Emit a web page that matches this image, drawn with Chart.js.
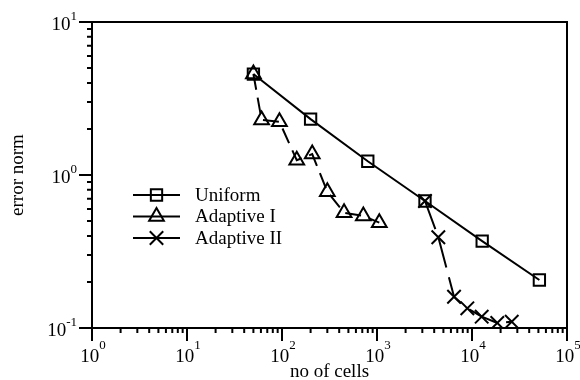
<!DOCTYPE html>
<html>
<head>
<meta charset="utf-8">
<script src="https://cdn.jsdelivr.net/npm/chart.js@4.4.0/dist/chart.umd.min.js"></script>
<style>
  html, body { margin: 0; padding: 0; background: #fff; }
</style>
</head>
<body>
<canvas id="chart" width="580" height="380"></canvas>
<script>
"use strict";

// values
const cellsUniform = [50, 200, 800, 3200, 12800, 51200];
const errorUniform = [4.57, 2.32, 1.23, 0.676, 0.37, 0.206];

const cellsAdaptive1 = [50, 61, 94, 143, 208, 300, 450, 718, 1057];
const errorAdaptive1 = [4.57, 2.29, 2.23, 1.25, 1.37, 0.778, 0.567, 0.54, 0.488];

const cellsAdaptive2 = [3200, 4420, 6470, 8930, 12650, 18460, 26200];
const errorAdaptive2 = [0.676, 0.392, 0.16, 0.1345, 0.1186, 0.108, 0.11];

const seriesLabels = ["Uniform", "Adaptive I", "Adaptive II"];
const xDecades = [0, 1, 2, 3, 4, 5];
const yDecades = [-1, 0, 1];

const FONT = "'Liberation Serif', 'Times New Roman', serif";

function toPoints(xs, ys) {
  return xs.map((x, i) => ({ x, y: ys[i] }));
}

function drawPower(ctx, exp, x, baseline, align, raise) {
  ctx.font = `19px ${FONT}`;
  const wBase = ctx.measureText("10").width;
  ctx.font = `13px ${FONT}`;
  const expText = String(exp);
  const wExp = ctx.measureText(expText).width;
  let left;
  if (align === "center") {
    left = x - (wBase + wExp) / 2 + 1;
  } else {
    left = x - wBase - wExp;
  }
  ctx.textAlign = "left";
  ctx.textBaseline = "alphabetic";
  ctx.font = `19px ${FONT}`;
  ctx.fillText("10", left, baseline);
  ctx.font = `13px ${FONT}`;
  ctx.fillText(expText, left + wBase, baseline - raise);
}

const decorPlugin = {
  id: "decor",
  afterDatasetsDraw(chart) {
    const { ctx, chartArea: area, scales } = chart;
    const x = scales.x;
    const y = scales.y;
    ctx.save();
    ctx.strokeStyle = "#000";
    ctx.fillStyle = "#000";
    ctx.lineWidth = 2;
    ctx.lineCap = "butt";
    ctx.strokeRect(area.left, area.top, area.right - area.left, area.bottom - area.top);

    // outward ticks, long on decades, short in between
    ctx.beginPath();
    xDecades.forEach((d, i) => {
      const base = Math.pow(10, d);
      const px = x.getPixelForValue(base);
      ctx.moveTo(px, area.bottom);
      ctx.lineTo(px, area.bottom + 13);
      if (i === xDecades.length - 1) return;
      for (let m = 2; m <= 9; m++) {
        const mx = x.getPixelForValue(base * m);
        ctx.moveTo(mx, area.bottom);
        ctx.lineTo(mx, area.bottom + 5);
      }
    });
    yDecades.forEach((d, i) => {
      const base = Math.pow(10, d);
      const py = y.getPixelForValue(base);
      ctx.moveTo(area.left, py);
      ctx.lineTo(area.left - 13, py);
      if (i === yDecades.length - 1) return;
      for (let m = 2; m <= 9; m++) {
        const my = y.getPixelForValue(base * m);
        ctx.moveTo(area.left, my);
        ctx.lineTo(area.left - 5, my);
      }
    });
    ctx.stroke();

    // tick labels as 10 with a raised exponent
    for (const d of xDecades) {
      const px = x.getPixelForValue(Math.pow(10, d));
      drawPower(ctx, d, px, area.bottom + 34, "center", 13);
    }
    for (const d of yDecades) {
      const py = y.getPixelForValue(Math.pow(10, d));
      drawPower(ctx, d, area.left - 15, py + 8, "right", 10);
    }

    // legend inside the plot
    const rowY = [195, 216.5, 238];
    chart.data.datasets.forEach((ds, i) => {
      const ly = rowY[i];
      const lx0 = area.left + 41;
      const lx1 = area.left + 88;
      ctx.setLineDash([]);
      ctx.lineWidth = 2;
      ctx.beginPath();
      ctx.moveTo(lx0, ly);
      ctx.lineTo(lx1, ly);
      ctx.stroke();
      ctx.fillStyle = "rgba(0,0,0,0)";
      Chart.helpers.drawPoint(ctx, {
        pointStyle: ds.pointStyle,
        radius: ds.pointRadius,
        rotation: 0,
        borderWidth: 2,
      }, (lx0 + lx1) / 2, ly);
      ctx.fillStyle = "#000";
      ctx.font = `19px ${FONT}`;
      ctx.textAlign = "left";
      ctx.textBaseline = "middle";
      ctx.fillText(ds.label, area.left + 103, ly + 1);
    });
    ctx.restore();
  },
};

const common = {
  borderColor: "#000",
  borderWidth: 2,
  pointBorderColor: "#000",
  pointBackgroundColor: "rgba(0,0,0,0)",
  pointBorderWidth: 2,
  tension: 0,
  fill: false,
};

new Chart(document.getElementById("chart").getContext("2d"), {
  type: "line",
  data: {
    datasets: [
      {
        ...common,
        label: seriesLabels[0],
        data: toPoints(cellsUniform, errorUniform),
        pointStyle: "rect",
        pointRadius: 8,
      },
      {
        ...common,
        label: seriesLabels[1],
        data: toPoints(cellsAdaptive1, errorAdaptive1),
        pointStyle: "triangle",
        pointRadius: 8.5,
        borderDash: [16, 8],
      },
      {
        ...common,
        label: seriesLabels[2],
        data: toPoints(cellsAdaptive2, errorAdaptive2),
        pointStyle: "crossRot",
        pointRadius: 9.5,
        borderDash: [30, 10],
      },
    ],
  },
  options: {
    responsive: false,
    animation: false,
    devicePixelRatio: 1,
    layout: { padding: { top: 22, right: 13, left: 0, bottom: 0 } },
    plugins: {
      legend: { display: false },
      tooltip: { enabled: false },
    },
    scales: {
      x: {
        type: "logarithmic",
        min: 1,
        max: 100000,
        grid: { display: false },
        border: { display: false },
        ticks: { display: false },
        title: {
          display: true,
          text: "no of cells",
          color: "#000",
          font: { family: FONT, size: 19, lineHeight: 0.8 },
          padding: { top: 28.8, bottom: 0 },
        },
      },
      y: {
        type: "logarithmic",
        min: 0.1,
        max: 10,
        grid: { display: false },
        border: { display: false },
        ticks: { display: false },
        title: {
          display: true,
          text: "error norm",
          color: "#000",
          font: { family: FONT, size: 19, lineHeight: 0.8 },
          padding: { top: 10.4, bottom: 58.4 },
        },
      },
    },
  },
  plugins: [decorPlugin],
});
</script>
</body>
</html>
